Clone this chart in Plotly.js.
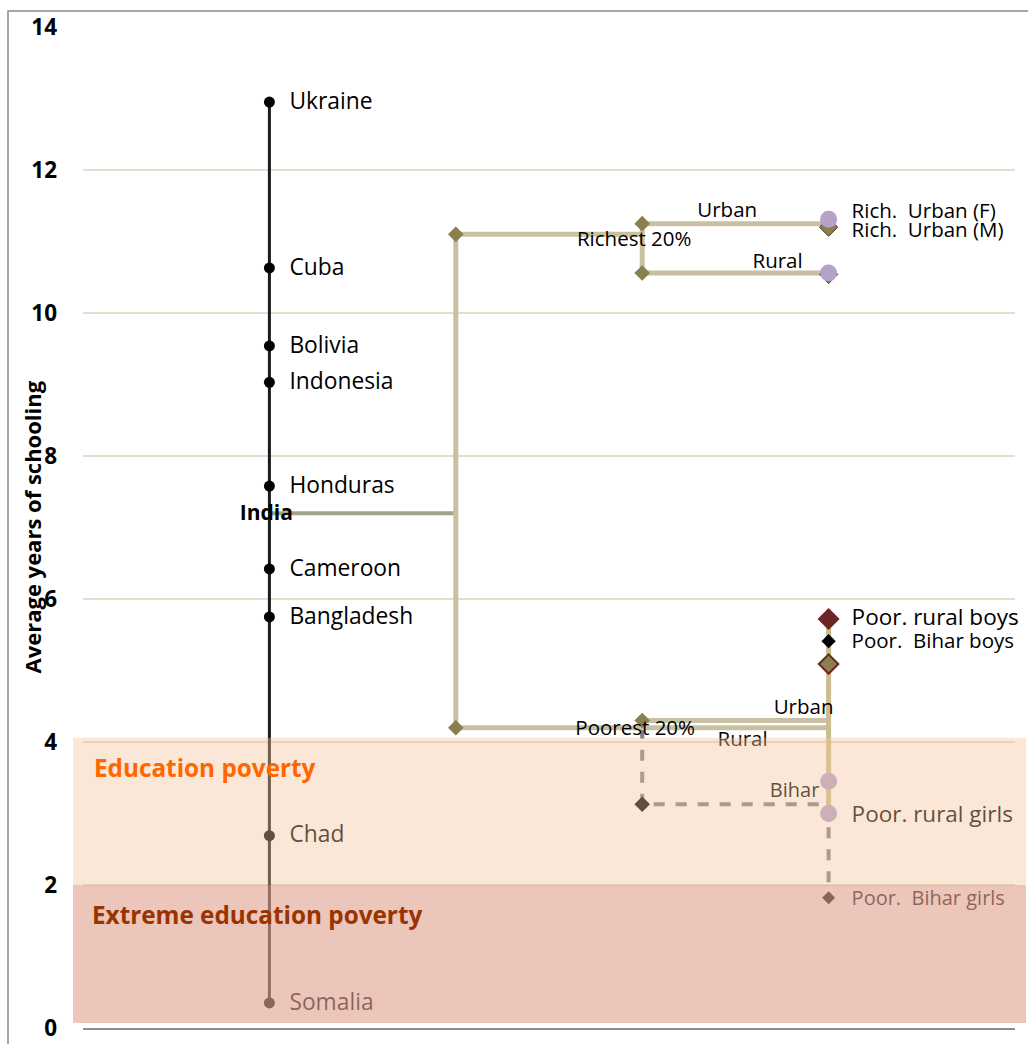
<!DOCTYPE html>
<html><head><meta charset="utf-8">
<script src="https://cdn.plot.ly/plotly-3.0.1.min.js"></script>
<style>body{margin:0;background:#fff}#chart{width:1028px;height:1044px}</style>
</head><body><div id="chart"></div>
<script>
// ---------------- DATA ----------------
const countries = ['Ukraine','Cuba','Bolivia','Indonesia','Honduras','Cameroon','Bangladesh','Chad','Somalia'];
const countryYears = [12.95, 10.63, 9.54, 9.03, 7.58, 6.42, 5.75, 2.69, 0.35];
const indiaLabel = 'India';
const indiaYears = 7.2;
const quintiles = ['Richest 20%', 'Poorest 20%'];
const quintileYears = [11.1, 4.2];
const richAreas = ['Urban', 'Rural'];
const richAreaYears = [11.25, 10.56];
const poorAreas = ['Urban', 'Rural'];
const poorAreaYears = [4.3, 4.2];
const biharLabel = 'Bihar';
const biharYears = 3.13;
const richFemaleYears = [11.31, 10.56];   // urban, rural
const richMaleYears = [11.2, 10.54];      // urban, rural
const poorRuralBoysYears = 5.72;
const poorBiharBoysYears = 5.41;
const poorUrbanBoysYears = 5.09;
const poorUrbanGirlsYears = 3.45;
const poorRuralGirlsYears = 3.0;
const poorBiharGirlsYears = 1.82;
const endLabels = ['Rich.\u00a0 Urban (F)', 'Rich.\u00a0 Urban (M)', 'Poor. rural boys', 'Poor.\u00a0 Bihar boys', 'Poor. rural girls', 'Poor.\u00a0 Bihar girls'];
const bands = ['Education poverty', 'Extreme education poverty'];
const bandRanges = [[2.0, 4.06], [0.07, 2.0]];
const yTicks = [0, 2, 4, 6, 8, 10, 12, 14];
const yTitle = 'Average years of schooling';

// ---------------- LAYOUT CONSTANTS ----------------
const W = 1028, H = 1044;
const M = {l: 83, r: 13, t: 27, b: 16};
const XR = [0, 10], YR = [0, 14];
const pw = W - M.l - M.r, ph = H - M.t - M.b;
const dx = px => px * (XR[1] - XR[0]) / pw;
const dy = px => px * (YR[1] - YR[0]) / ph;
const colCountry = 2, colIndia = 4, colQuint = 6, colEnd = 8;
const FONT = 'Open Sans, sans-serif';
const TAN = '#c8c0a0', OLIVE = '#8b7f4e', LAV = '#b4a2c8';

const traces = [];
function line(x, y, color, width, dash) {
  traces.push({type: 'scatter', mode: 'lines', x: x, y: y, hoverinfo: 'skip', showlegend: false,
    line: {color: color, width: width, dash: dash || 'solid'}});
}
function marks(x, y, symbol, color, size, lc, lw) {
  traces.push({type: 'scatter', mode: 'markers', x: x, y: y, hoverinfo: 'skip', showlegend: false,
    marker: {symbol: symbol, color: color, size: size, line: {color: lc || color, width: lw || 0}}});
}
function texts(x, y, t, size, color, pos, bold) {
  traces.push({type: 'scatter', mode: 'text', x: x, y: y, hoverinfo: 'skip', showlegend: false, cliponaxis: false,
    text: t.map(s => bold ? '<b>' + s + '</b>' : s), textposition: pos || 'middle right',
    textfont: {family: FONT, size: size, color: color}});
}

// country spine
line([colCountry, colCountry], [Math.max(...countryYears), Math.min(...countryYears)], '#1a1a1a', 3);

// Bihar dashed path
line([colQuint, colQuint, colEnd, colEnd], [poorAreaYears[1], biharYears, biharYears, poorBiharGirlsYears], '#7f7f7f', 4, '11px,11px');
line([colEnd, colEnd], [biharYears, poorBiharBoysYears], '#7f7f7f', 4, '11px,11px');

// India tree
line([colCountry, colIndia], [indiaYears, indiaYears], '#a2a28a', 4);
line([colIndia, colIndia], quintileYears, TAN, 5);
line([colIndia, colQuint], [quintileYears[0], quintileYears[0]], TAN, 5);
line([colQuint, colQuint], richAreaYears, TAN, 5);
line([colQuint, colEnd], [richAreaYears[0], richAreaYears[0]], TAN, 5);
line([colQuint, colEnd], [richAreaYears[1], richAreaYears[1]], TAN, 5);
line([colIndia, colEnd], [quintileYears[1], quintileYears[1]], TAN, 5);
line([colQuint, colEnd], [poorAreaYears[0], poorAreaYears[0]], TAN, 5);
line([colEnd, colEnd], [poorRuralBoysYears, poorRuralGirlsYears], '#cbbd90', 5);

// markers
marks(countryYears.map(() => colCountry), countryYears, 'circle', '#000', 11);
marks([colIndia, colIndia, colQuint, colQuint, colQuint],
      [quintileYears[0], quintileYears[1], richAreaYears[0], richAreaYears[1], poorAreaYears[0]], 'diamond', OLIVE, 12);
marks([colEnd, colEnd], richMaleYears, 'diamond', OLIVE, 14, '#4a3020', 1);
marks([colEnd, colEnd], richFemaleYears, 'circle', LAV, 17);
marks([colEnd], [poorUrbanBoysYears], 'diamond', OLIVE, 15, '#6e2525', 2);
marks([colEnd], [poorRuralBoysYears], 'diamond', '#6e2525', 17);
marks([colEnd], [poorBiharBoysYears], 'diamond', '#000', 11);
marks([colEnd, colEnd], [poorUrbanGirlsYears, poorRuralGirlsYears], 'circle', LAV, 17);
marks([colQuint], [biharYears], 'diamond', '#000', 12);
marks([colEnd], [poorBiharGirlsYears], 'diamond', '#000', 10);

// labels
texts(countryYears.map(() => colCountry + dx(20)), countryYears.map(v => v - dy(1)), countries, 22.8, '#000');
texts([colCountry - dx(3)], [indiaYears - dy(2)], [indiaLabel], 21, '#000', 'middle center', true);
texts([colQuint - dx(8), colQuint - dx(7)], [quintileYears[0] - dy(7), quintileYears[1] - dy(2)], quintiles, 20.5, '#000', 'middle center');
texts([colQuint + dx(85), colEnd - dx(51)], [richAreaYears[0] + dy(12), richAreaYears[1] + dy(10)], richAreas, 20.5, '#000', 'middle center');
texts([colEnd - dx(25), colEnd - dx(86)], [poorAreaYears[0] + dy(12), poorAreaYears[1] - dy(13)], poorAreas, 20.5, '#000', 'middle center');
texts([colEnd - dx(34)], [biharYears + dy(12)], [biharLabel], 20, '#000', 'middle center');
const endY = [richFemaleYears[0] + dy(6), richMaleYears[0] - dy(5), poorRuralBoysYears, poorBiharBoysYears - dy(2), poorRuralGirlsYears - dy(3), poorBiharGirlsYears - dy(2)];
const endSize = [20.5, 20.5, 22.5, 20.5, 22.5, 20];
endLabels.forEach((t, i) => texts([colEnd + dx(23)], [endY[i]], [t], endSize[i], '#000'));

// shapes
const shapes = [
  {type: 'rect', xref: 'paper', yref: 'y', x0: dx(-10) / 10, x1: 1 + dx(11) / 10, y0: bandRanges[0][0], y1: bandRanges[0][1],
   fillcolor: 'rgba(245,195,155,0.40)', line: {width: 0}, layer: 'above'},
  {type: 'rect', xref: 'paper', yref: 'y', x0: dx(-10) / 10, x1: 1 + dx(11) / 10, y0: bandRanges[1][0], y1: bandRanges[1][1],
   fillcolor: 'rgba(224,161,145,0.62)', line: {width: 0}, layer: 'above'},
  {type: 'rect', xref: 'paper', yref: 'paper', x0: (8 - M.l) / pw, x1: 1.2, y0: -0.2, y1: (H - M.b - 11) / ph,
   fillcolor: 'rgba(0,0,0,0)', line: {color: '#8a8a8a', width: 1.5}, layer: 'above'}
];

const annotations = [
  {xref: 'paper', yref: 'y', x: (92 - M.l) / pw, y: bandRanges[0][1] - dy(30), xanchor: 'left', yanchor: 'middle', showarrow: false,
   text: '<b>' + bands[0] + '</b>', font: {family: FONT, size: 24.3, color: '#ff6600'}},
  {xref: 'paper', yref: 'y', x: (90 - M.l) / pw, y: bandRanges[1][1] - dy(29), xanchor: 'left', yanchor: 'middle', showarrow: false,
   text: '<b>' + bands[1] + '</b>', font: {family: FONT, size: 24.3, color: '#993300'}},
  {xref: 'paper', yref: 'paper', x: (31 - M.l) / pw, y: 0.5, xanchor: 'center', yanchor: 'middle', showarrow: false, textangle: -90,
   text: '<b>' + yTitle + '</b>', font: {family: FONT, size: 22, color: '#000'}}
];

const layout = {
  width: W, height: H, margin: M, paper_bgcolor: '#fff', plot_bgcolor: '#fff', showlegend: false,
  font: {family: FONT},
  xaxis: {range: XR, showgrid: false, zeroline: false, showticklabels: false, ticks: '',
          showline: true, linecolor: '#8c8c8c', linewidth: 2},
  yaxis: {range: YR, tickvals: yTicks, ticktext: yTicks.map(v => '<b>' + v + '</b>'),
          tickfont: {family: FONT, size: 22.5, color: '#000'}, ticks: '', ticklabelstandoff: 25,
          showgrid: true, gridcolor: '#e3dfcb', gridwidth: 2, zeroline: false, showline: false},
  shapes: shapes, annotations: annotations
};

Plotly.newPlot('chart', traces, layout, {staticPlot: true, displayModeBar: false});
</script></body></html>
